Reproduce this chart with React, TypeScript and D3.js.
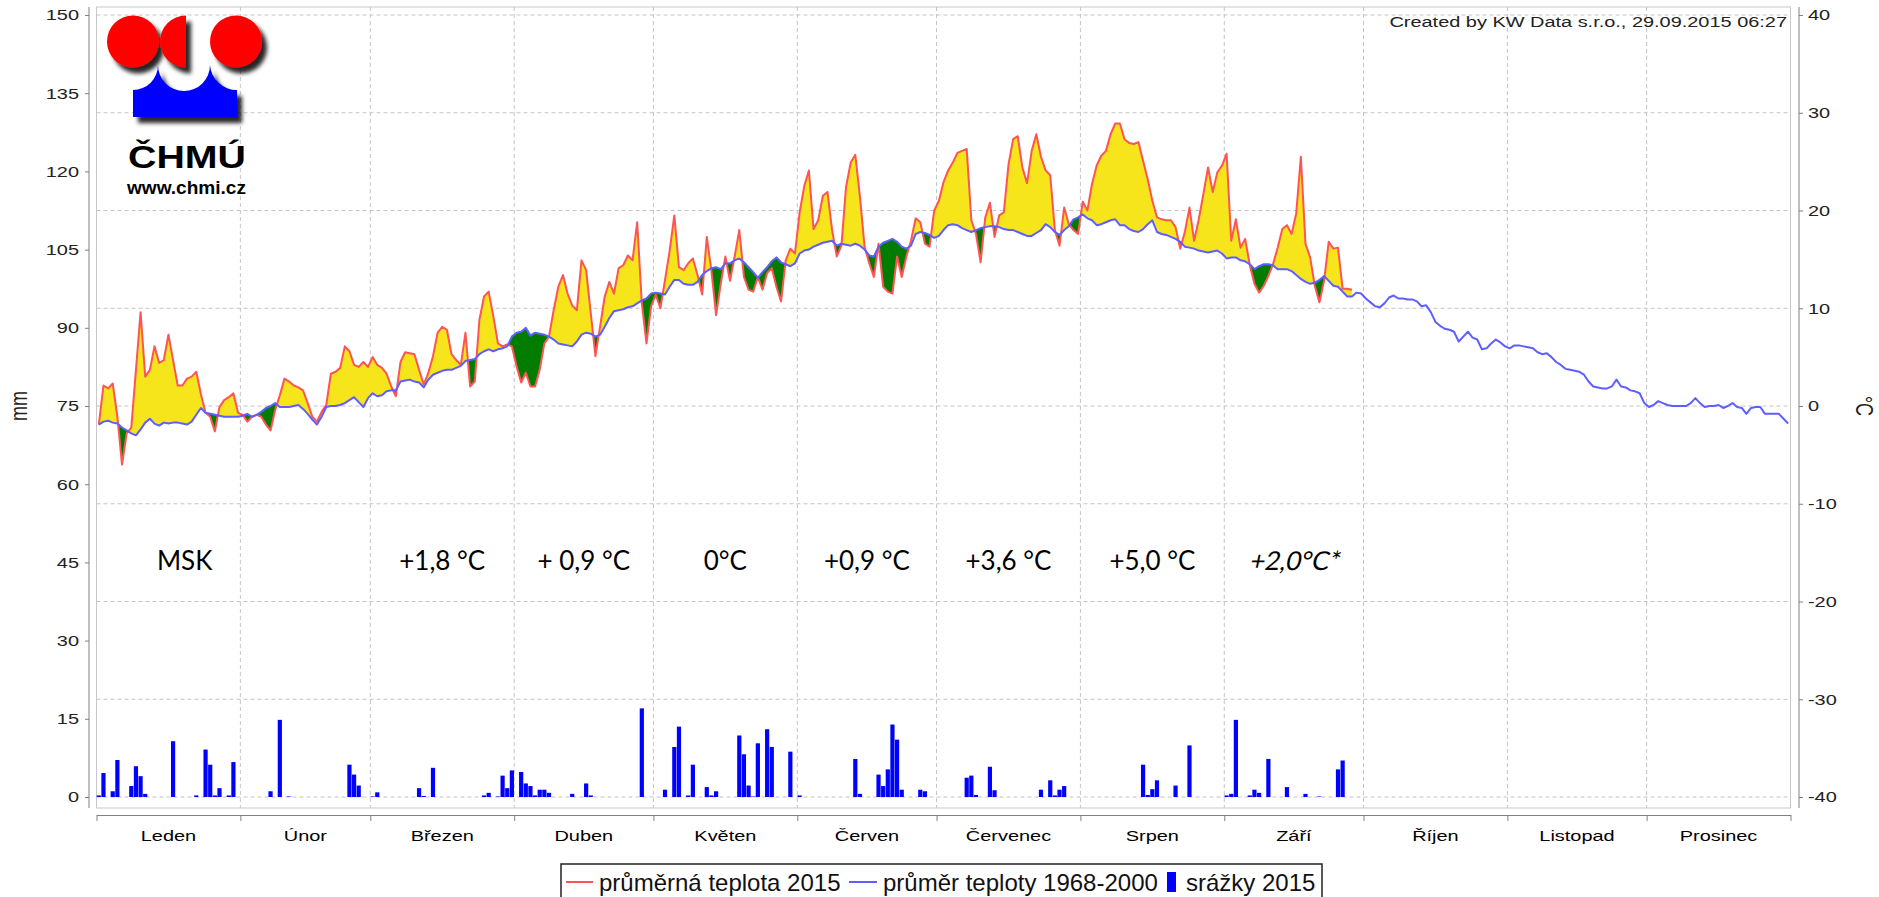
import React, { useEffect, useRef } from 'react';
import * as d3 from 'd3';

const width = 1879;
const height = 897;

// plot frame (px) and the common value range of both y axes
const plot = { left: 96.5, right: 1790.5, top: 7, bottom: 808 };
const yTop = 15;
const yBottom = 797;
const javaStretch = 1.33; // the original chart was stretched horizontally, text too

const fontJava = "'Liberation Sans', Arial, sans-serif";

const monthNames = ['Leden', 'Únor', 'Březen', 'Duben', 'Květen', 'Červen', 'Červenec', 'Srpen', 'Září', 'Říjen', 'Listopad', 'Prosinec'];
const monthStarts = [0, 31, 59, 90, 120, 151, 181, 212, 243, 273, 304, 334, 365];

const mmTicks = [0, 15, 30, 45, 60, 75, 90, 105, 120, 135, 150];
const tempTicks = [-40, -30, -20, -10, 0, 10, 20, 30, 40];

// monthly deviations written into the chart (day of year where each label sits)
const anomalyLabels = ['MSK', '+1,8 °C', '+ 0,9 °C', '0°C', '+0,9 °C', '+3,6 °C', '+5,0 °C', '+2,0°C*'];
const anomalyDays = [19, 74.5, 105, 135.5, 166, 196.5, 227.5, 258];

// daily mean temperature 2015 (°C), 1.1. - 28.9.
const temp2015 = [
  -1.9, 2.1, 1.8, 2.3, -1.1, -6.0, -2.8, -2.2, 3.7, 9.6,
  3.0, 3.7, 6.1, 4.4, 4.7, 7.3, 4.7, 2.1, 2.1, 2.8,
  3.0, 3.5, 1.2, -0.7, -1.1, -2.6, -0.1, 0.6, 0.9, 1.3,
  -0.7, -0.9, -1.6, -1.1, -0.9, -1.1, -1.9, -2.5, -0.4, 1.1,
  2.8, 2.5, 2.1, 1.9, 1.6, 0.3, -1.1, -1.6, -0.6, 0.1,
  3.3, 3.5, 3.9, 6.1, 5.6, 4.2, 4.0, 4.5, 4.0, 5.0,
  4.2, 3.9, 3.3, 2.0, 1.0, 4.5, 5.5, 5.4, 5.3, 3.7,
  2.2, 3.4, 5.1, 7.5, 8.1, 7.8, 5.3, 4.7, 4.2, 7.5,
  2.0, 2.5, 8.8, 11.2, 11.7, 9.2, 6.4, 6.1, 6.3, 6.1,
  4.1, 2.4, 3.4, 2.0, 2.0, 3.7, 6.4, 7.1, 9.8, 12.2,
  13.4, 11.5, 10.3, 9.8, 14.9, 13.9, 9.5, 5.1, 8.1, 11.2,
  12.7, 11.5, 14.1, 14.4, 15.4, 14.9, 18.8, 10.5, 6.4, 10.2,
  11.4, 10.0, 12.9, 15.9, 19.5, 14.2, 13.9, 14.6, 15.1, 13.4,
  11.4, 17.3, 13.8, 9.3, 12.5, 15.3, 12.8, 15.3, 18.0, 13.2,
  11.9, 11.7, 13.2, 11.9, 13.6, 14.1, 12.2, 10.7, 14.9, 16.1,
  15.6, 19.8, 22.5, 24.1, 18.1, 19.0, 21.5, 21.9, 18.0, 15.3,
  16.4, 22.4, 24.9, 25.7, 21.4, 16.3, 14.6, 13.2, 16.6, 12.2,
  11.7, 11.5, 15.3, 13.2, 15.3, 16.9, 19.2, 18.8, 16.6, 16.3,
  20.0, 21.0, 22.9, 24.1, 24.9, 25.9, 26.1, 26.3, 19.0, 17.6,
  14.7, 19.3, 20.8, 17.3, 19.5, 19.8, 24.7, 27.3, 27.6, 24.4,
  22.8, 26.1, 27.8, 25.5, 24.1, 23.6, 18.0, 16.4, 20.3, 18.6,
  18.0, 17.6, 20.9, 20.0, 22.7, 24.6, 25.6, 26.1, 27.8, 28.9,
  28.9, 27.3, 26.9, 26.8, 27.0, 25.1, 23.2, 21.0, 19.3, 19.1,
  19.0, 19.0, 18.3, 16.1, 17.8, 20.3, 16.9, 19.1, 21.7, 24.4,
  21.9, 23.9, 24.6, 25.8, 16.9, 19.1, 16.2, 17.1, 14.4, 12.5,
  11.6, 12.3, 13.3, 14.5, 16.2, 18.1, 18.5, 17.6, 19.7, 25.5,
  16.6, 15.2, 12.3, 10.6, 12.8, 16.8, 16.1, 16.2, 12.0, 12.0,
  11.9,
];

// long-term daily mean 1968-2000 (°C)
const tempNormal = [
  -1.9, -1.6, -1.5, -1.7, -1.8, -2.2, -2.5, -2.8, -3.0, -2.4,
  -1.7, -1.3, -1.8, -2.0, -1.7, -1.8, -1.7, -1.7, -1.8, -1.9,
  -1.6, -0.9, -0.2, -0.7, -0.8, -0.9, -1.0, -1.1, -1.1, -1.1,
  -1.1, -1.0, -0.8, -1.1, -0.9, -0.6, -0.2, 0.0, 0.3, -0.1,
  -0.1, -0.1, 0.0, 0.1, -0.3, -0.8, -1.4, -1.9, -1.1, -0.1,
  0.0, 0.0, 0.1, 0.3, 0.6, 0.9, 0.4, -0.1, 0.8, 1.3,
  1.0, 1.1, 1.5, 1.6, 1.6, 2.5, 2.6, 2.7, 2.5, 2.4,
  1.9, 2.7, 3.2, 3.4, 3.6, 3.7, 3.7, 3.9, 4.1, 4.6,
  4.7, 4.8, 5.3, 5.6, 5.8, 5.6, 5.8, 5.9, 6.1, 7.1,
  7.5, 7.6, 8.0, 7.2, 7.5, 7.4, 7.3, 7.1, 6.8, 6.4,
  6.3, 6.2, 6.1, 6.6, 7.3, 7.5, 7.4, 7.1, 7.3, 8.1,
  9.0, 9.7, 9.8, 9.9, 10.1, 10.2, 10.5, 10.8, 11.0, 11.5,
  11.6, 11.5, 11.4, 12.2, 12.9, 12.9, 12.5, 12.4, 12.4, 12.7,
  13.4, 13.8, 14.1, 14.2, 14.0, 14.6, 14.6, 14.9, 15.1, 14.7,
  14.2, 13.7, 13.1, 13.7, 14.2, 14.8, 15.2, 14.7, 14.5, 14.3,
  14.6, 15.6, 15.9, 16.0, 16.3, 16.5, 16.7, 16.8, 16.9, 16.4,
  16.6, 16.5, 16.4, 16.6, 16.4, 16.0, 15.4, 15.3, 16.3, 16.7,
  16.9, 17.1, 16.8, 16.3, 16.1, 16.4, 17.6, 17.8, 17.7, 17.5,
  17.2, 17.4, 18.0, 18.5, 18.6, 18.5, 18.2, 18.0, 17.8, 18.0,
  18.2, 18.3, 18.4, 18.4, 18.3, 18.1, 18.0, 18.0, 17.8, 17.6,
  17.4, 17.4, 17.7, 18.0, 18.6, 18.3, 17.8, 17.5, 18.0, 18.4,
  19.1, 19.3, 19.6, 19.2, 19.0, 18.5, 18.6, 18.8, 19.0, 19.1,
  18.5, 18.5, 18.1, 17.9, 17.8, 18.1, 18.6, 19.0, 17.8, 17.6,
  17.5, 17.3, 17.1, 16.8, 16.3, 16.2, 16.1, 15.9, 15.8, 15.7,
  15.8, 15.9, 15.6, 15.1, 15.2, 15.2, 14.9, 14.8, 14.5, 14.0,
  14.3, 14.5, 14.5, 14.4, 14.0, 14.0, 14.0, 13.8, 13.4, 13.0,
  12.7, 12.5, 12.6, 12.9, 13.3, 12.8, 12.3, 12.2, 11.7, 11.2,
  11.2, 11.6, 11.5, 11.0, 10.6, 10.2, 10.1, 10.5, 11.1, 11.3,
  11.0, 11.0, 10.9, 10.9, 10.7, 10.2, 10.3, 9.6, 8.6, 8.2,
  7.9, 7.8, 7.6, 6.6, 7.1, 7.6, 7.0, 6.8, 5.8, 5.9,
  6.4, 6.8, 6.5, 6.1, 5.9, 6.2, 6.2, 6.1, 6.0, 5.9,
  5.5, 5.3, 5.4, 5.0, 4.5, 4.2, 3.8, 3.7, 3.6, 3.5,
  3.2, 2.5, 2.0, 1.9, 1.8, 1.8, 2.0, 2.7, 2.0, 1.9,
  1.6, 1.5, 1.3, 0.3, -0.1, 0.1, 0.5, 0.3, 0.1, 0.0,
  0.0, 0.0, 0.0, 0.3, 0.8, 0.3, -0.1, 0.0, 0.0, 0.1,
  -0.2, 0.0, 0.3, -0.1, -0.2, -0.8, -0.2, -0.1, -0.1, -0.8,
  -0.8, -0.8, -0.8, -1.3, -1.8,
];

// daily precipitation 2015: day index (0 = 1.1.) and mm
const rainDays = [
  0, 1, 3, 4, 7, 8, 9, 10, 16, 21, 23, 24, 25, 26, 28, 29, 37, 39, 41,
  54, 55, 56, 59, 60, 69, 70, 72, 83, 84, 86, 87, 88, 89, 91, 92, 93, 94, 95, 96, 97,
  102, 105, 106, 117, 122, 124, 125, 127, 128, 131, 132, 133, 138, 139, 140, 141, 142, 144, 145, 149,
  151, 163, 164, 168, 169, 170, 171, 172, 173, 177, 178, 187, 188, 189, 192, 193,
  203, 205, 206, 207, 208, 225, 226, 227, 228, 232, 235, 243, 244, 245, 248, 249, 250, 252, 256, 260, 263, 267, 268,
];
const rainMm = [
  0.3, 4.6, 1.1, 7.1, 2.1, 5.9, 4.0, 0.6, 10.7, 0.3, 9.1, 6.2, 0.3, 1.7, 0.3, 6.7, 1.1, 14.8, 0.1,
  6.2, 4.3, 2.2, 0.1, 0.9, 1.7, 0.2, 5.6, 0.3, 0.8, 0.1, 4.1, 1.7, 5.1, 4.8, 2.6, 2.1, 0.3, 1.4, 1.4, 0.8,
  0.6, 2.6, 0.3, 17.0, 1.4, 9.6, 13.5, 0.3, 6.2, 1.9, 0.3, 1.1, 11.8, 8.2, 2.2, 0.1, 10.3, 13.0, 9.6, 8.7,
  0.3, 7.3, 0.6, 4.3, 2.1, 5.3, 13.9, 11.0, 1.4, 1.4, 1.1, 3.7, 4.1, 0.4, 5.8, 1.3,
  1.4, 3.2, 0.3, 1.4, 2.1, 6.2, 0.4, 1.5, 3.2, 2.2, 9.9, 0.3, 0.6, 14.8, 0.3, 1.4, 0.8, 7.3, 1.9, 0.6, 0.1, 5.3, 7.0,
];

const colors = {
  red: '#ff5454',
  blue: '#5f5fff',
  warm: '#f5e51a',
  cold: '#007d00',
  bar: '#0000ff',
  grid: '#c4c4c4',
  axis: '#808080',
};

function drawChart(node: SVGSVGElement) {
  const svg = d3.select(node);
  svg.selectAll('*').remove();

  const x = d3.scaleLinear().domain([0, 365]).range([plot.left, plot.right]);
  const yT = d3.scaleLinear().domain([-40, 40]).range([yBottom, yTop]);
  const yMm = d3.scaleLinear().domain([0, 150]).range([yBottom, yTop]);
  const dayX = (i: number) => x(i + 0.5);

  svg.append('rect').attr('width', width).attr('height', height).attr('fill', '#fff');

  const defs = svg.append('defs');
  const shadow = defs.append('filter').attr('id', 'logoShadow')
    .attr('x', '-20%').attr('y', '-20%').attr('width', '150%').attr('height', '150%');
  shadow.append('feDropShadow')
    .attr('dx', 5).attr('dy', 6).attr('stdDeviation', 2)
    .attr('flood-color', '#000').attr('flood-opacity', 0.85);

  // plot frame
  svg.append('rect')
    .attr('x', plot.left).attr('y', plot.top)
    .attr('width', plot.right - plot.left).attr('height', plot.bottom - plot.top)
    .attr('fill', '#fff').attr('stroke', '#c8c8c8');

  // grid lines
  const grid = svg.append('g')
    .attr('stroke', colors.grid)
    .attr('stroke-dasharray', '4,3');
  grid.selectAll('line.h')
    .data(tempTicks)
    .join('line')
    .attr('class', 'h')
    .attr('x1', plot.left).attr('x2', plot.right)
    .attr('y1', d => yT(d)).attr('y2', d => yT(d));
  grid.selectAll('line.v')
    .data(monthStarts.slice(1, -1))
    .join('line')
    .attr('class', 'v')
    .attr('x1', d => x(d)).attr('x2', d => x(d))
    .attr('y1', plot.top).attr('y2', plot.bottom);

  // warm / cold band between 2015 and the normal
  const days = d3.range(temp2015.length);
  defs.append('clipPath').attr('id', 'aboveNormal').append('path')
    .attr('d', d3.area<number>().x(dayX).y0(0).y1(i => yT(tempNormal[i]))(days));
  defs.append('clipPath').attr('id', 'belowNormal').append('path')
    .attr('d', d3.area<number>().x(dayX).y0(i => yT(tempNormal[i])).y1(height)(days));

  const band = d3.area<number>()
    .x(dayX)
    .y0(i => yT(tempNormal[i]))
    .y1(i => yT(temp2015[i]));

  svg.append('path').attr('d', band(days)).attr('fill', colors.warm).attr('clip-path', 'url(#aboveNormal)');
  svg.append('path').attr('d', band(days)).attr('fill', colors.cold).attr('clip-path', 'url(#belowNormal)');

  // precipitation bars
  svg.append('g')
    .selectAll('rect')
    .data(rainDays)
    .join('rect')
    .attr('x', d => dayX(d) - 2.1)
    .attr('width', 4.2)
    .attr('y', (d, k) => yMm(rainMm[k]))
    .attr('height', (d, k) => yMm(0) - yMm(rainMm[k]))
    .attr('fill', colors.bar);

  // lines
  const tempLine = d3.line<number>().x((d, i) => dayX(i)).y(d => yT(d));
  svg.append('path')
    .attr('d', tempLine(temp2015))
    .attr('fill', 'none')
    .attr('stroke', colors.red)
    .attr('stroke-width', 2)
    .attr('stroke-linejoin', 'round');
  svg.append('path')
    .attr('d', tempLine(tempNormal))
    .attr('fill', 'none')
    .attr('stroke', colors.blue)
    .attr('stroke-width', 2)
    .attr('stroke-linejoin', 'round');

  // left axis (mm)
  const leftAxis = svg.append('g')
    .attr('transform', 'translate(89,0)')
    .call(d3.axisLeft(yMm).tickValues(mmTicks).tickSize(4).tickFormat(d => String(d)));
  leftAxis.attr('font-family', fontJava).attr('font-size', 15);
  leftAxis.select('.domain').remove();
  leftAxis.selectAll('.tick line').attr('stroke', colors.axis);
  leftAxis.selectAll('.tick text')
    .attr('x', -10 / javaStretch)
    .attr('transform', `scale(${javaStretch},1)`)
    .attr('fill', '#222');
  leftAxis.append('line')
    .attr('y1', plot.top).attr('y2', plot.bottom)
    .attr('stroke', colors.axis);

  // right axis (°C)
  const rightAxis = svg.append('g')
    .attr('transform', 'translate(1799,0)')
    .call(d3.axisRight(yT).tickValues(tempTicks).tickSize(4).tickFormat(d => String(d)));
  rightAxis.attr('font-family', fontJava).attr('font-size', 15);
  rightAxis.select('.domain').remove();
  rightAxis.selectAll('.tick line').attr('stroke', colors.axis);
  rightAxis.selectAll('.tick text')
    .attr('x', 9 / javaStretch)
    .attr('transform', `scale(${javaStretch},1)`)
    .attr('fill', '#222');
  rightAxis.append('line')
    .attr('y1', plot.top).attr('y2', plot.bottom)
    .attr('stroke', colors.axis);

  // bottom axis with months
  const bottomAxis = svg.append('g')
    .attr('transform', 'translate(0,815)')
    .call(d3.axisBottom(x).tickValues(monthStarts).tickSize(6).tickSizeOuter(0).tickFormat(() => ''));
  bottomAxis.selectAll('path, line').attr('stroke', colors.axis);

  svg.append('g')
    .selectAll('text')
    .data(monthNames)
    .join('text')
    .attr('transform', (d, i) => `translate(${x((monthStarts[i] + monthStarts[i + 1]) / 2)},841) scale(${javaStretch},1)`)
    .attr('text-anchor', 'middle')
    .attr('font-family', fontJava)
    .attr('font-size', 15)
    .attr('fill', '#000')
    .text(d => d);

  // axis titles
  svg.append('text')
    .attr('transform', `translate(27,406) scale(${javaStretch},1) rotate(-90)`)
    .attr('text-anchor', 'middle')
    .attr('font-family', fontJava)
    .attr('font-size', 18)
    .attr('fill', '#222')
    .text('mm');
  svg.append('text')
    .attr('transform', `translate(1856,406) scale(${javaStretch},1) rotate(90)`)
    .attr('text-anchor', 'middle')
    .attr('font-family', fontJava)
    .attr('font-size', 18)
    .attr('fill', '#222')
    .text('°C');

  // creation note
  svg.append('text')
    .attr('transform', `translate(1787,27) scale(${javaStretch},1)`)
    .attr('text-anchor', 'end')
    .attr('font-family', fontJava)
    .attr('font-size', 15)
    .attr('fill', '#222')
    .text('Created by KW Data s.r.o., 29.09.2015 06:27');

  // monthly deviation notes (the last one is a preliminary value, slanted)
  svg.append('g')
    .selectAll('text')
    .data(anomalyLabels)
    .join('text')
    .attr('transform', (d, i) => `translate(${x(anomalyDays[i])},570)${d.endsWith('*') ? ' skewX(-12)' : ''}`)
    .attr('text-anchor', 'middle')
    .attr('font-family', "Lato, 'Open Sans', sans-serif")
    .attr('font-size', 26)
    .attr('fill', '#000')
    .text(d => d);

  // ČHMÚ logo
  const logo = svg.append('g');
  const shapes = logo.append('g').attr('filter', 'url(#logoShadow)');
  shapes.append('circle').attr('cx', 133).attr('cy', 41.5).attr('r', 26).attr('fill', '#ff0000');
  shapes.append('path').attr('d', 'M186,15.5 A26,26 0 0,0 186,67.5 Z').attr('fill', '#ff0000');
  shapes.append('circle').attr('cx', 236).attr('cy', 41.5).attr('r', 26).attr('fill', '#ff0000');
  shapes.append('path')
    .attr('d', 'M133,90 A25,25 0 0,0 158,65 A26,26 0 0,0 210,65 A27,27 0 0,0 237,90 L237,117 L133,117 Z')
    .attr('fill', '#0000ff');
  logo.append('text')
    .attr('x', 128).attr('y', 168)
    .attr('textLength', 118).attr('lengthAdjust', 'spacingAndGlyphs')
    .attr('font-family', fontJava).attr('font-weight', 'bold').attr('font-size', 31)
    .attr('fill', '#000')
    .text('ČHMÚ');
  logo.append('text')
    .attr('x', 127).attr('y', 194)
    .attr('textLength', 119).attr('lengthAdjust', 'spacingAndGlyphs')
    .attr('font-family', fontJava).attr('font-weight', 'bold').attr('font-size', 18)
    .attr('fill', '#000')
    .text('www.chmi.cz');

  // legend
  const legend = svg.append('g').attr('font-family', fontJava).attr('font-size', 24).attr('fill', '#111');
  legend.append('rect')
    .attr('x', 561).attr('y', 864)
    .attr('width', 761).attr('height', 45)
    .attr('fill', '#fff').attr('stroke', '#222').attr('stroke-width', 1.5);
  legend.append('line').attr('x1', 566).attr('x2', 593).attr('y1', 882).attr('y2', 882)
    .attr('stroke', colors.red).attr('stroke-width', 2);
  legend.append('text').attr('x', 599).attr('y', 891).text('průměrná teplota 2015');
  legend.append('line').attr('x1', 849).attr('x2', 877).attr('y1', 882).attr('y2', 882)
    .attr('stroke', colors.blue).attr('stroke-width', 2);
  legend.append('text').attr('x', 883).attr('y', 891).text('průměr teploty 1968-2000');
  legend.append('rect').attr('x', 1167).attr('y', 872).attr('width', 9).attr('height', 20).attr('fill', colors.bar);
  legend.append('text').attr('x', 1186).attr('y', 891).text('srážky 2015');
}

export default function App() {
  const ref = useRef<SVGSVGElement>(null);

  useEffect(() => {
    document.body.style.margin = '0';
    if (ref.current) drawChart(ref.current);
  }, []);

  return (
    <svg
      ref={ref}
      width={width}
      height={height}
      style={{ position: 'absolute', left: 0, top: 0, display: 'block' }}
    />
  );
}
